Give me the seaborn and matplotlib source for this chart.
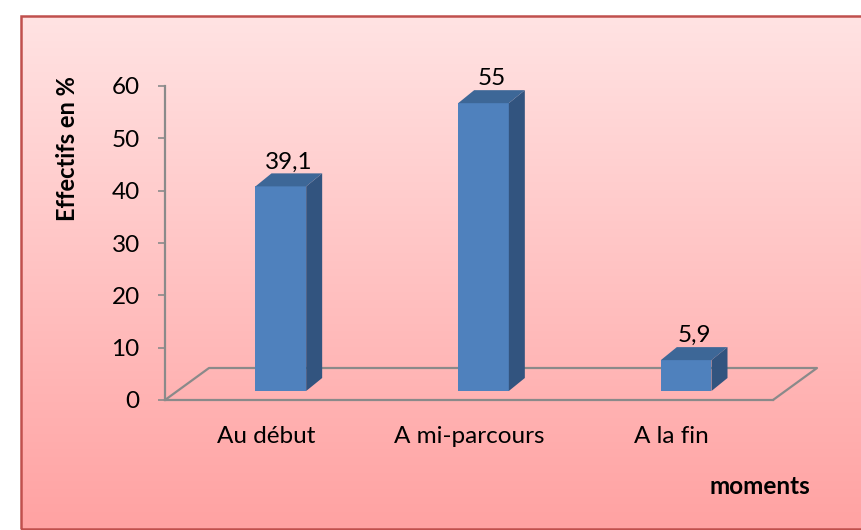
import numpy as np
import pandas as pd
import matplotlib
matplotlib.use("Agg")
import matplotlib.pyplot as plt
import seaborn as sns
from matplotlib.transforms import Affine2D, IdentityTransform
from matplotlib.patches import Polygon, Rectangle
from matplotlib.lines import Line2D

# ---- data ----
categories = ["Au début", "A mi-parcours", "A la fin"]
values = [39.1, 55, 5.9]
value_labels = ["39,1", "55", "5,9"]
yticks = [0, 10, 20, 30, 40, 50, 60]

sns.set_theme(style="white")
plt.rcParams["font.family"] = ["Lato", "DejaVu Sans"]

W, H = 861, 530
fig = plt.figure(figsize=(W / 100, H / 100), dpi=100)
fig.patch.set_facecolor("white")


def px(x0, y0, x1, y1):
    return [x0 / W, 1 - y1 / H, (x1 - x0) / W, (y1 - y0) / H]


# background gradient
bg = fig.add_axes(px(21, 16, 862, 529), zorder=0)
g = np.linspace(0, 1, 256)[:, None, None]
top = np.array([255, 227, 227]) / 255
bot = np.array([255, 162, 162]) / 255
img = top + (bot - top) * g
bg.imshow(img, aspect="auto", extent=[0, 1, 0, 1], interpolation="bilinear")
bg.set_axis_off()
fig.add_artist(Rectangle((21 / W, 1 - 529 / H), (863 - 21) / W, (529 - 16) / H,
                         transform=fig.transFigure, fill=False,
                         ec="#C0504D", lw=1.8, zorder=1))

# main axes
ax = fig.add_axes(px(165, 86, 773, 400), zorder=2)
ax.patch.set_alpha(0)
df = pd.DataFrame({"moment": categories, "val": values})
sns.barplot(data=df, x="moment", y="val", order=categories, ax=ax, width=0.25,
            color="#4F81BD", saturation=1, zorder=3)
ax.set_xlim(-0.5, 2.5)
ax.set_ylim(0, 60)
ax.set_xlabel("")
ax.set_ylabel("")
ax.set_yticks(yticks)
ax.set_yticklabels([str(t) for t in yticks])
gray = "#8A8A8A"
sns.despine(ax=ax)
for s in ("left", "bottom"):
    ax.spines[s].set_color(gray)
    ax.spines[s].set_linewidth(1.6)
FS = 17.5
ax.tick_params(axis="y", length=5.2, width=1.2, color=gray, pad=13,
               labelsize=FS, labelcolor="black", left=True)
ax.tick_params(axis="x", length=0, pad=19, labelsize=FS, labelcolor="black")
ax.grid(False)

# floor (3D base)
dxf, dyf = 44 / 608, 32 / 314
ax.add_line(Line2D([0, dxf, 1 + dxf, 1], [0, dyf, dyf, 0], transform=ax.transAxes,
                   color=gray, lw=1.6, clip_on=False, zorder=1))

# 3D bars
off = Affine2D().translate(14.5, 9)
ddx, ddy = 16, 13
for p, lab in zip(ax.patches, value_labels):
    p.set_transform(ax.transData + off)
    p.set_linewidth(0)
    p.set_zorder(3)
    p.set_clip_on(False)
    T = ax.transData + off
    x0, y0 = T.transform((p.get_x(), 0))
    x1, y1 = T.transform((p.get_x() + p.get_width(), p.get_height()))
    side = Polygon([(x1, y0), (x1 + ddx, y0 + ddy), (x1 + ddx, y1 + ddy), (x1, y1)],
                   closed=True, transform=IdentityTransform(), fc="#32547F",
                   ec="none", zorder=3, clip_on=False)
    topf = Polygon([(x0, y1), (x1, y1), (x1 + ddx, y1 + ddy), (x0 + ddx, y1 + ddy)],
                   closed=True, transform=IdentityTransform(), fc="#3D6797",
                   ec="none", zorder=3, clip_on=False)
    ax.add_patch(side)
    ax.add_patch(topf)
    ax.text(p.get_x() + p.get_width() / 2, p.get_height(), lab,
            transform=ax.transData + Affine2D().translate(14.5 + 8, 9 + ddy + 1),
            ha="center", va="bottom", fontsize=FS, color="black", zorder=4)

fig.text(67.5 / W, 1 - 149 / H, "Effectifs en %", rotation=90, fontweight="bold",
         ha="center", va="center", fontsize=17, color="black")
fig.text(760 / W, 1 - 487 / H, "moments", fontweight="bold",
         ha="center", va="center", fontsize=17.5, color="black")

fig.savefig("out.png", dpi=100)
